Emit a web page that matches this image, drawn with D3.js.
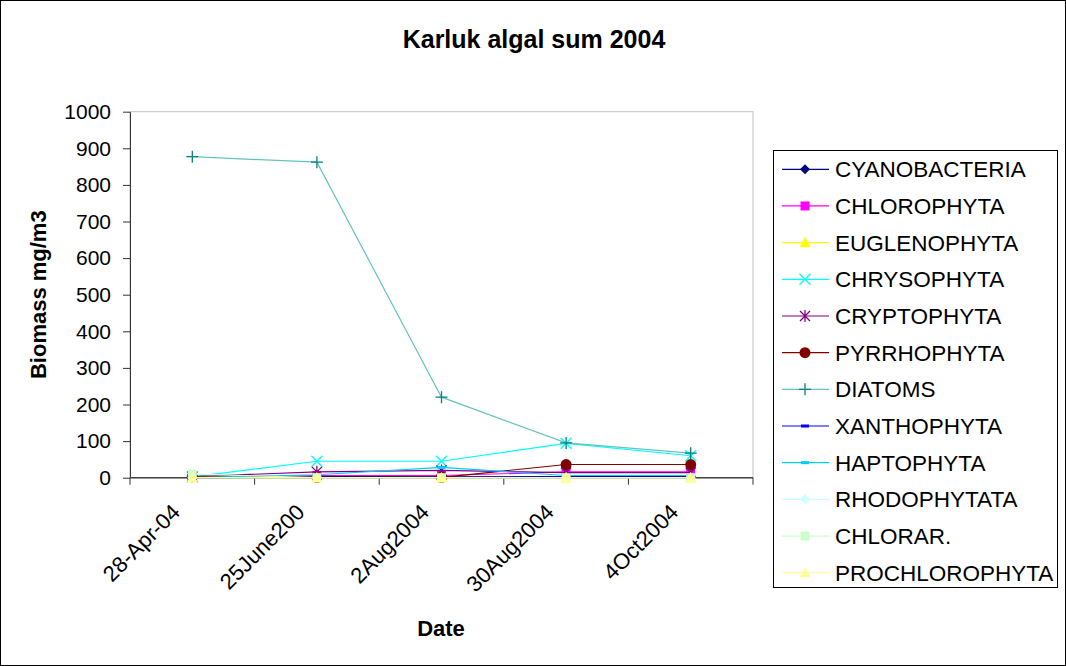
<!DOCTYPE html>
<html>
<head>
<meta charset="utf-8">
<script src="https://cdn.jsdelivr.net/npm/d3@7"></script>
<style>
  body { margin: 0; background: #fff; }
  svg { display: block; font-family: "Liberation Sans", Arial, sans-serif; }
  .axis text { font-size: 21px; fill: #000; }
  .axis path, .axis line { stroke: #333; }
</style>
</head>
<body>
<div id="chart"></div>
<script>
// Data
const dates = ['28-Apr-04', '25June200', '2Aug2004', '30Aug2004', '4Oct2004']
const yTicks = [0, 100, 200, 300, 400, 500, 600, 700, 800, 900, 1000]

const cyanobacteria = [1, 3, 2, 3, 3]
const chlorophyta = [2, 6, 6, 16, 16]
const euglenophyta = [0, 0, 0, 0, 0]
const chrysophyta = [2, 45, 45, 94, 60]
const cryptophyta = [3, 16, 20, 14, 14]
const pyrrhophyta = [3, 1, 1, 36, 36]
const diatoms = [877, 862, 220, 95, 67]
const xanthophyta = [0, 1, 1, 2, 2]
const haptophyta = [0, 8, 28, 6, 6]
const rhodophytata = [0, 0, 0, 0, 0]
const chlorar = [10, 0, 0, 0, 0]
const prochlorophyta = [0, 0, 0, 0, 0]

const seriesNames = ['CYANOBACTERIA', 'CHLOROPHYTA', 'EUGLENOPHYTA', 'CHRYSOPHYTA',
  'CRYPTOPHYTA', 'PYRRHOPHYTA', 'DIATOMS', 'XANTHOPHYTA', 'HAPTOPHYTA',
  'RHODOPHYTATA', 'CHLORAR.', 'PROCHLOROPHYTA']
const seriesValues = [cyanobacteria, chlorophyta, euglenophyta, chrysophyta,
  cryptophyta, pyrrhophyta, diatoms, xanthophyta, haptophyta,
  rhodophytata, chlorar, prochlorophyta]

// look of each series (excel defaults)
const styles = [
  { color: '#000080', marker: 'diamond' },
  { color: '#ff00ff', marker: 'square' },
  { color: '#ffff00', marker: 'triangle' },
  { color: '#00ffff', marker: 'x' },
  { color: '#800080', marker: 'star' },
  { color: '#800000', marker: 'circle' },
  { color: '#008080', marker: 'plus', line: '#66c2c2' },
  { color: '#0000ff', marker: 'dash' },
  { color: '#00ccff', marker: 'dash' },
  { color: '#ccffff', marker: 'diamond' },
  { color: '#ccffcc', marker: 'square' },
  { color: '#ffff99', marker: 'triangle' }
]

const series = seriesNames.map((name, i) => ({
  name,
  values: seriesValues[i],
  ...styles[i]
}))

// Dimensions
const dimensions = {
  width: 1066,
  height: 666,
  plotLeft: 130,
  plotRight: 753,
  plotTop: 111.7,
  plotBottom: 477.7
}

const svg = d3.select('#chart')
  .append('svg')
  .attr('width', dimensions.width)
  .attr('height', dimensions.height)

// outer frame
svg.append('rect')
  .attr('x', 0.5)
  .attr('y', 0.5)
  .attr('width', dimensions.width - 1)
  .attr('height', dimensions.height - 1)
  .attr('fill', '#fff')
  .attr('stroke', '#000')

// Scales
const xScale = d3.scaleBand()
  .domain(dates)
  .range([dimensions.plotLeft, dimensions.plotRight])

const yScale = d3.scaleLinear()
  .domain([0, 1000])
  .range([dimensions.plotBottom, dimensions.plotTop])

// plot area border
svg.append('rect')
  .attr('x', dimensions.plotLeft)
  .attr('y', yScale(1000))
  .attr('width', dimensions.plotRight - dimensions.plotLeft)
  .attr('height', yScale(0) - yScale(1000))
  .attr('fill', 'none')
  .attr('stroke', '#c0c0c0')

// markers
function markerPath(type) {
  const p = d3.path()
  if (type === 'diamond') {
    p.moveTo(0, -5); p.lineTo(5, 0); p.lineTo(0, 5); p.lineTo(-5, 0); p.closePath()
  } else if (type === 'square') {
    p.rect(-4.5, -4.5, 9, 9)
  } else if (type === 'triangle') {
    p.moveTo(0, -6); p.lineTo(5.5, 4.5); p.lineTo(-5.5, 4.5); p.closePath()
  } else if (type === 'x') {
    p.moveTo(-5.5, -5.5); p.lineTo(5.5, 5.5); p.moveTo(5.5, -5.5); p.lineTo(-5.5, 5.5)
  } else if (type === 'star') {
    p.moveTo(-5, -5); p.lineTo(5, 5); p.moveTo(5, -5); p.lineTo(-5, 5)
    p.moveTo(0, -6); p.lineTo(0, 6)
  } else if (type === 'circle') {
    p.arc(0, 0, 5.5, 0, 2 * Math.PI)
  } else if (type === 'plus') {
    p.moveTo(-6, 0); p.lineTo(6, 0); p.moveTo(0, -6); p.lineTo(0, 6)
  } else if (type === 'dash') {
    p.rect(-4, -1.5, 8, 3)
  }
  return p.toString()
}

const strokeOnly = ['x', 'star', 'plus']

function drawMarker(sel, s) {
  sel.attr('d', markerPath(s.marker))
    .attr('fill', strokeOnly.includes(s.marker) ? 'none' : s.color)
    .attr('stroke', strokeOnly.includes(s.marker) ? s.color : 'none')
    .attr('stroke-width', 1.3)
}

// Axes
const yAxis = d3.axisLeft(yScale)
  .tickValues(yTicks)
  .tickFormat(d3.format('d'))
  .tickSize(7)
  .tickPadding(12)
  .tickSizeOuter(0)

svg.append('g')
  .classed('axis', true)
  .attr('transform', `translate(${dimensions.plotLeft}, 0)`)
  .call(yAxis)

svg.append('line')
  .attr('x1', dimensions.plotLeft)
  .attr('x2', dimensions.plotRight)
  .attr('y1', yScale(0))
  .attr('y2', yScale(0))
  .attr('stroke', '#444')
  .attr('stroke-width', 1.5)

// ticks on the band edges
const edges = dates.map(d => xScale(d)).concat([xScale.range()[1]])
svg.append('g')
  .selectAll('line')
  .data(edges)
  .join('line')
  .attr('x1', d => d)
  .attr('x2', d => d)
  .attr('y1', yScale(0))
  .attr('y2', yScale(0) + 7)
  .attr('stroke', '#333')

svg.append('g')
  .selectAll('text')
  .data(dates)
  .join('text')
  .attr('transform', d =>
    `translate(${xScale(d) + xScale.bandwidth() / 2 - 11}, ${yScale(0) + 36}) rotate(-45)`)
  .attr('text-anchor', 'end')
  .attr('font-size', 22)
  .text(d => d)

// lines
const line = d3.line()
  .x((d, i) => xScale(dates[i]) + xScale.bandwidth() / 2)
  .y(d => yScale(d))

const seriesGroup = svg.append('g')
  .selectAll('g')
  .data(series)
  .join('g')

seriesGroup.append('path')
  .attr('d', d => line(d.values))
  .attr('fill', 'none')
  .attr('stroke', d => d.line || d.color)
  .attr('stroke-width', 1.2)

seriesGroup.each(function (s) {
  d3.select(this)
    .selectAll('path.marker')
    .data(s.values)
    .join('path')
    .classed('marker', true)
    .attr('transform', (d, i) =>
      `translate(${xScale(dates[i]) + xScale.bandwidth() / 2}, ${yScale(d)})`)
    .call(drawMarker, s)
})

// titles
svg.append('text')
  .attr('x', 534)
  .attr('y', 48)
  .attr('text-anchor', 'middle')
  .attr('font-size', 25)
  .attr('font-weight', 'bold')
  .text('Karluk algal sum 2004')

svg.append('text')
  .attr('transform', `translate(46, ${(yScale(0) + yScale(1000)) / 2}) rotate(-90)`)
  .attr('text-anchor', 'middle')
  .attr('font-size', 22)
  .attr('font-weight', 'bold')
  .text('Biomass mg/m3')

svg.append('text')
  .attr('x', 441)
  .attr('y', 636)
  .attr('text-anchor', 'middle')
  .attr('font-size', 22)
  .attr('font-weight', 'bold')
  .text('Date')

// legend
const legend = svg.append('g')

legend.append('rect')
  .attr('x', 773.5)
  .attr('y', 150.5)
  .attr('width', 284)
  .attr('height', 437)
  .attr('fill', '#fff')
  .attr('stroke', '#000')

const rowY = d3.scalePoint()
  .domain(seriesNames)
  .range([169.3, 572.7])

const rows = legend.selectAll('g.row')
  .data(series)
  .join('g')
  .classed('row', true)
  .attr('transform', d => `translate(0, ${rowY(d.name)})`)

rows.append('line')
  .attr('x1', 782)
  .attr('x2', 829)
  .attr('stroke', d => d.line || d.color)
  .attr('stroke-width', 1.2)

rows.append('path')
  .attr('transform', 'translate(805, 0)')
  .each(function (s) { d3.select(this).call(drawMarker, s) })

rows.append('text')
  .attr('x', 835)
  .attr('dy', '0.36em')
  .attr('font-size', 22.5)
  .text(d => d.name)
</script>
</body>
</html>
